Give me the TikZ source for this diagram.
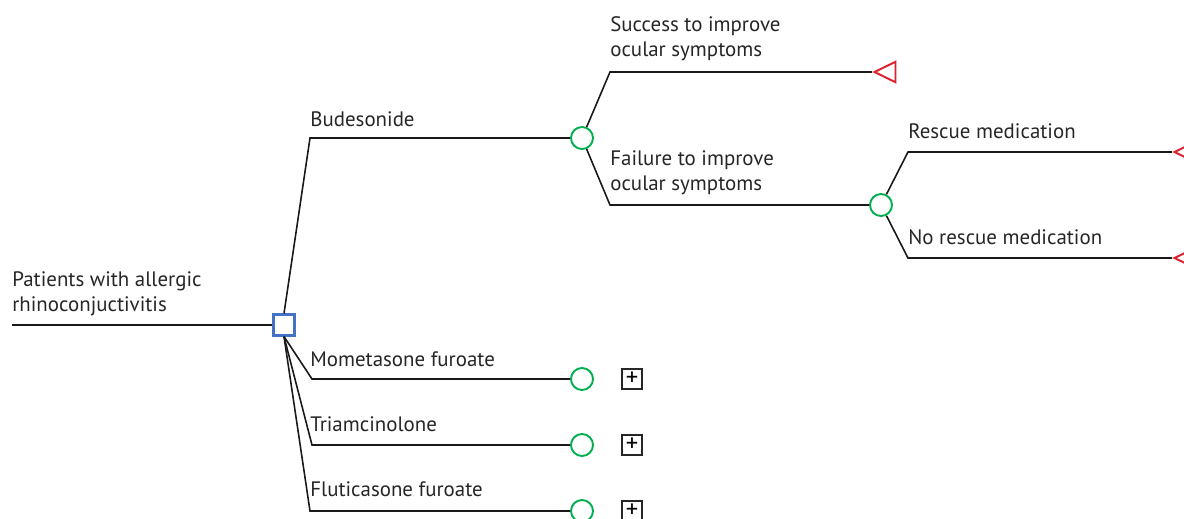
\documentclass[tikz,border=0pt]{standalone}
\usepackage{fontspec}
\setmainfont{PT Sans}
\usepackage{xcolor}
\usetikzlibrary{shapes.geometric}
\definecolor{chancegreen}{RGB}{0,176,80}
\definecolor{decblue}{RGB}{68,114,196}
\definecolor{termred}{RGB}{222,32,44}

\begin{document}
\begin{tikzpicture}[x=0.02cm,y=-0.02cm,
    decision/.style={draw=decblue,line width=1.2pt,fill=white,minimum size=0.42cm,inner sep=0},
    chance/.style={circle,draw=chancegreen,line width=1.1pt,fill=white,minimum size=0.44cm,inner sep=0},
    terminal/.style={isosceles triangle,isosceles triangle stretches,shape border rotate=180,
      draw=termred,line width=1.1pt,minimum width=0.41cm,minimum height=0.42cm,inner sep=0,anchor=apex},
    collapsed/.style={draw=black!85,line width=1pt,minimum size=0.4cm,inner sep=0,
      font=\fontsize{14pt}{14pt}\selectfont},
    branch/.style={line width=0.9pt,black!90},
    lbl/.style={anchor=base west,inner sep=0,align=left,text=black!85,
      font=\fontsize{11.9pt}{14.23pt}\selectfont}]
    \useasboundingbox (0,0) rectangle (1184,518);
    \coordinate (root) at (12,325);
    \node[decision] (treat) at (284,325) {};
    \node[chance] (bud) at (582,138) {};
    \node[chance] (fail) at (881,205) {};
    \node[chance] (mom) at (582,379) {};
    \node[chance] (tri) at (582,445) {};
    \node[chance] (flu) at (582,511) {};
    \node[terminal] (succ) at (872,72) {};
    \node[terminal] (resc) at (1172,152) {};
    \node[terminal] (nores) at (1172,258) {};
    \node[collapsed] (momsub) at (632,379) {+};
    \node[collapsed] (trisub) at (632,445) {+};
    \node[collapsed] (flusub) at (632,511) {+};
    % branches
    \draw[branch] (root) -- (treat);
    \draw[branch] (treat.north) -- (310,138) -- (bud);
    \draw[branch] (treat.south) -- (312,379) -- (mom);
    \draw[branch] (treat.south) -- (312,445) -- (tri);
    \draw[branch] (treat.south) -- (310,511) -- (flu);
    \draw[branch] (bud) -- (610,72) -- (succ);
    \draw[branch] (bud) -- (610,205) -- (fail);
    \draw[branch] (fail) -- (908,152) -- (resc);
    \draw[branch] (fail) -- (908,258) -- (nores);
    % labels (base = last line)
    \node[lbl] (ptlbl) at (12,311) {Patients with allergic\\rhinoconjuctivitis};
    \node[lbl] (budlbl) at (310,126) {Budesonide};
    \node[lbl] (succlbl) at (610,56.7) {Success to improve\\ocular symptoms};
    \node[lbl] (faillbl) at (610,190.7) {Failure to improve\\ocular symptoms};
    \node[lbl] (resclbl) at (908,138.3) {Rescue medication};
    \node[lbl] (noreslbl) at (908,244.3) {No rescue medication};
    \node[lbl] (momlbl) at (310,366) {Mometasone furoate};
    \node[lbl] (trilbl) at (310,431.5) {Triamcinolone};
    \node[lbl] (flulbl) at (310,496.7) {Fluticasone furoate};
\end{tikzpicture}
\end{document}
